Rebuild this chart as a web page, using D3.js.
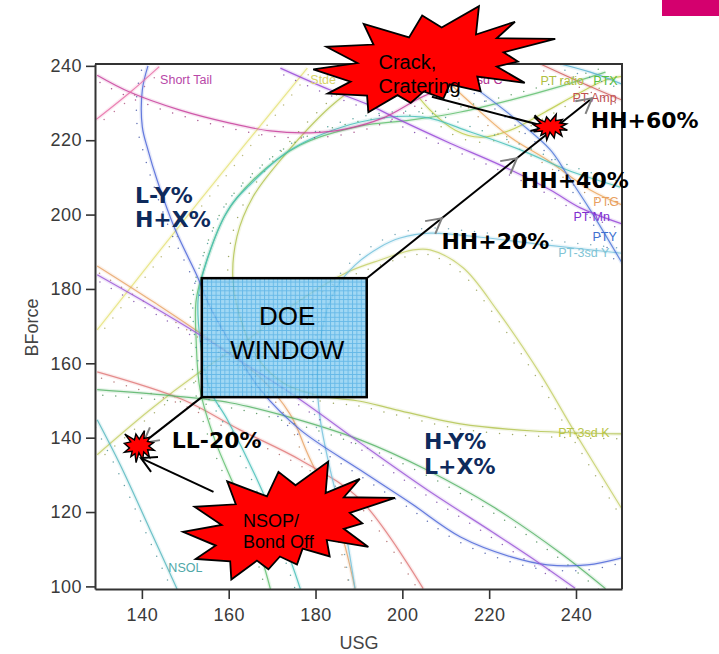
<!DOCTYPE html>
<html>
<head>
<meta charset="utf-8">
<script src="https://cdn.jsdelivr.net/npm/d3@7"></script>
<style>
    body { margin: 0; background: #fff; }
    svg { display: block; }
</style>
</head>
<body>
<div id="chart"></div>
<script>
// Axis ticks.
const usgTicks = [140, 160, 180, 200, 220, 240];
const bforceTicks = [100, 120, 140, 160, 180, 200, 220, 240];

// Contour lines, as [USG, BForce].
const shortTail = [[129.7,237.5],[137.3,232.9],[148.8,228.1],[160.3,224.6],[169.6,222.5],[178.8,222.0],[186.8,223.0],[195.6,226.0],[204.8,231.8],[213.4,235.6]];
const tailSpur = [[129.5,225.6],[137.3,232.9],[144.0,239.8]];
const ptMn = [[171.9,239.4],[183.4,233.5],[191.9,229.7],[199.5,225.4],[211.0,219.2],[222.6,213.3],[234.1,206.6],[241.0,201.8],[250.6,197.5]];
const blueSteep = [[141.4,240.0],[140.1,233.5],[140.1,223.6],[141.4,217.4],[143.5,209.3],[147.7,195.9],[152.8,183.3],[155.7,175.2],[160.3,165.6],[167.3,152.9],[176.5,142.1],[190.3,131.3],[201.8,122.5],[213.4,113.3],[224.9,108.0],[233.4,105.8],[242.6,105.8],[250.6,107.7]];
const purpleLow = [[129.7,183.8],[142.6,175.2],[153.4,167.6],[164.9,159.0],[176.5,150.2],[190.3,138.6],[205.7,126.0],[220.9,114.5],[231.0,106.7],[239.8,99.5]];
const orangeLow = [[129.7,186.2],[143.1,176.2],[155.7,166.3],[167.3,156.1],[174.2,146.2],[178.1,135.9],[185.0,117.9],[189.1,99.4]];
const salmonLow = [[129.7,157.7],[149.5,150.2],[162.6,142.1],[176.5,134.0],[190.3,123.3],[204.8,99.4]];
const greenLow = [[129.7,152.9],[146.5,151.3],[160.3,149.4],[171.9,146.2],[190.3,139.4],[205.7,131.3],[220.9,121.4],[236.4,109.0],[246.8,99.4]];
const pt3sdK = [[191.5,236.2],[183.4,229.0],[172.6,215.6],[165.6,204.8],[161.9,194.1],[161.0,181.8],[163.3,169.9],[166.8,161.1],[173.0,154.4],[181.1,151.2],[190.3,149.8],[197.9,147.7],[213.4,143.7],[230.2,141.8],[250.6,141.0]];
const oliveArch = [[129.7,135.4],[141.9,147.5],[153.4,157.7],[164.9,166.8],[176.5,177.0],[187.3,184.5],[194.9,187.8],[202.5,190.5],[206.4,190.5],[214.0,185.7],[221.8,174.3],[231.8,157.1],[239.4,142.1],[250.6,120.8]];
const pt3sdY = [[250.6,189.6],[233.4,191.8],[218.0,193.9],[206.4,195.0],[199.5,193.7],[194.9,191.3],[189.1,186.4],[184.5,179.7],[181.5,169.0],[180.4,155.5],[181.1,144.8],[183.4,131.3],[186.8,115.2],[189.1,99.4]];
const tealLoop = [[250.2,207.4],[238.0,212.0],[227.2,217.4],[215.7,222.2],[204.8,226.2],[190.3,224.9],[174.2,217.4],[164.9,208.0],[160.3,202.1],[155.0,187.8],[153.0,177.9],[153.4,166.3],[155.7,152.9],[159.7,144.8],[167.3,126.8],[174.2,107.1],[176.5,99.3]];
const greenLoop = [[246.8,238.3],[236.4,234.5],[224.9,230.8],[213.4,227.6],[201.8,225.4],[190.3,223.8],[176.5,218.7],[165.6,209.3],[159.2,199.9],[154.6,186.4],[152.5,177.0],[152.5,166.3],[153.4,152.9],[156.8,139.4],[162.6,123.3],[167.7,107.1],[169.6,99.3]];
const stde = [[129.7,169.0],[153.4,203.9],[178.1,239.4]];
const nsol = [[129.7,144.8],[135.0,132.7],[141.9,115.2],[148.1,99.3]];
const ptRatio = [[200.7,236.2],[206.4,228.1],[212.2,222.7],[217.9,220.8],[224.9,222.7],[232.9,227.6],[239.8,232.1],[246.8,236.2],[250.6,237.2]];
const ptG = [[206.4,240.5],[215.0,230.8],[224.9,220.8],[233.4,214.7],[243.3,206.6],[250.6,202.6]];
const ptY = [[208.7,240.5],[218.0,233.0],[227.2,224.6],[234.1,217.4],[238.0,210.7],[243.3,201.2],[250.6,187.0]];
const ptTop = [[236.4,240.5],[243.3,238.3],[250.6,235.1]];
const ptAmp = [[231.8,240.5],[241.0,235.6],[250.6,230.8]];

const contours = [
    ["stde", stde], ["oliveArch", oliveArch], ["pt3sdK", pt3sdK], ["ptRatio", ptRatio],
    ["orangeLow", orangeLow], ["salmonLow", salmonLow], ["ptG", ptG], ["ptAmp", ptAmp],
    ["greenLow", greenLow], ["greenLoop", greenLoop], ["tealLoop", tealLoop], ["pt3sdY", pt3sdY],
    ["nsol", nsol], ["ptTop", ptTop], ["blueSteep", blueSteep], ["ptY", ptY],
    ["purpleLow", purpleLow], ["ptMn", ptMn], ["shortTail", shortTail], ["tailSpur", tailSpur]
];
const contourColor = {
    stde: "#e6e27a", oliveArch: "#c6d06a", pt3sdK: "#b4c452", ptRatio: "#bccb48",
    orangeLow: "#e8a468", salmonLow: "#e07a7a", ptG: "#eca860", ptAmp: "#d06060",
    greenLow: "#58b468", greenLoop: "#62c070", tealLoop: "#48c0b8", pt3sdY: "#74c2dc",
    nsol: "#58b8c0", ptTop: "#58b0d0", blueSteep: "#4c66d8", ptY: "#5078d8",
    purpleLow: "#9b58d8", ptMn: "#9848d8", shortTail: "#c8409c", tailSpur: "#e870a8"
};

// Contour labels: [USG, BForce, text].
const contourLabels = [
    [144.2, 235.1, "Short Tail"], [178.8, 235.1, "Stde"], [214.6, 235.1, "-3sd C"],
    [231.8, 234.8, "PT ratio"], [244.0, 234.8, "PTX"], [239.2, 230.4, "PT Amp"],
    [244.0, 202.3, "PTG"], [239.4, 198.3, "PT Mn"], [243.8, 193.0, "PTY"],
    [235.9, 188.6, "PT-3sd Y"], [235.9, 140.3, "PT-3sd K"], [146.1, 104.0, "NSOL"]
];
const labelColor = {
    "Short Tail": "#b848a8", "Stde": "#d8d468", "-3sd C": "#b03090", "PT ratio": "#b0c040",
    "PTX": "#58c040", "PT Amp": "#c05050", "PTG": "#e8a060", "PT Mn": "#8030d0",
    "PTY": "#4070d0", "PT-3sd Y": "#80c4d4", "PT-3sd K": "#b8c448", "NSOL": "#50a8a8"
};

// Annotations in data units.
const doeWindow = { usg: [153.8, 191.8], bforce: [150.9, 182.9] };
const hhPath = [[191.8, 182.9], [243.7, 231.3]];
const blackArrows = [[[206.8, 231.7], [233.3, 223.6]], [[156.5, 125.4], [139.8, 134.5]]];
const llArrow = [[153.8, 150.9], [140.3, 138.6]];
const bursts = [
    { at: [207.35, 241.8], w: 242, h: 106, big: true, lines: ["Crack,", "Cratering"], text: [194.5, 239.1], size: 20, lead: 24 },
    { at: [173.9, 117.7], w: 212, h: 118, big: true, lines: ["NSOP/", "Bond Off"], text: [163.3, 116.0], size: 18, lead: 20.7 },
    { at: [234.1, 223.5], w: 34, h: 26, big: false },
    { at: [139.4, 137.6], w: 30, h: 32, big: false }
];
const boldLabels = [
    [209.0, 190.7, "HH+20%", "#000"], [227.3, 207.1, "HH+40%", "#000"], [243.4, 223.2, "HH+60%", "#000"],
    [146.9, 137.2, "LL-20%", "#000"],
    [138.4, 203.2, "L-Y%", "#0e2a5c"], [138.4, 196.6, "H+X%", "#0e2a5c"],
    [205.0, 137.0, "H-Y%", "#0e2a5c"], [205.0, 130.3, "L+X%", "#0e2a5c"]
];

// Explosion outlines (unit box 21600).
const seal2 = [[11462,4342],[14790,0],[14525,5777],[18007,3172],[16380,6532],[21600,6645],[16985,9402],[18270,11290],[16380,12310],[18877,15632],[14640,14350],[14942,17370],[12180,15935],[11612,18842],[9872,17370],[8700,19712],[7527,18125],[4917,21600],[4805,18240],[1285,17825],[3330,15370],[0,12877],[3935,11592],[1172,8270],[5372,7817],[4502,3625],[8550,6382],[9722,1887]];
const seal1 = [[10800,5800],[14522,0],[14155,5325],[18380,4457],[16702,7315],[21097,8137],[17607,10475],[21600,13290],[16837,12942],[18145,18095],[14020,14457],[13247,19737],[10532,14935],[8485,21600],[7715,15627],[4762,17617],[5667,13937],[135,14587],[3722,11775],[0,8615],[4627,7617],[370,2295],[7312,6320],[8352,2295]];

const width = 719, height = 654;
const plot = { left: 95, right: 622, top: 64, bottom: 589 };

let svg = d3.select("#chart")
    .append("svg")
        .attr("width", width)
        .attr("height", height);

let x = d3.scaleLinear().domain([129.2, 250.6]).range([plot.left, plot.right]);
let y = d3.scaleLinear().domain([99.3, 240.5]).range([plot.bottom, plot.top]);

let defs = svg.append("defs");
defs.append("clipPath").attr("id", "plotClip")
    .append("rect")
        .attr("x", plot.left).attr("y", plot.top)
        .attr("width", plot.right - plot.left).attr("height", plot.bottom - plot.top);
let pat = defs.append("pattern")
    .attr("id", "doeGrid")
    .attr("width", 4.4).attr("height", 4.4)
    .attr("patternUnits", "userSpaceOnUse");
pat.append("rect").attr("width", 4.4).attr("height", 4.4).attr("fill", "#8ccff2");
pat.append("path").attr("d", "M0,0.5H4.4M0.5,0V4.4").attr("stroke", "#42a8e2").attr("stroke-width", 0.9);

// Slide decoration in the corner.
svg.append("rect").attr("x", 662).attr("y", 0).attr("width", 57).attr("height", 16).attr("fill", "#d4006e");

// Contour lines with their side dots.
let body = svg.append("g").attr("clip-path", "url(#plotClip)");
let line = d3.line()
    .x(d => x(d[0]))
    .y(d => y(d[1]))
    .curve(d3.curveCatmullRom);

contours.forEach(function(c) {
    let color = contourColor[c[0]];
    body.append("path")
        .attr("d", line(c[1]))
        .attr("fill", "none")
        .attr("stroke", color)
        .attr("stroke-opacity", 0.14)
        .attr("stroke-width", 4);
    let p = body.append("path")
        .attr("d", line(c[1]))
        .attr("fill", "none")
        .attr("stroke", color)
        .attr("stroke-opacity", 0.85)
        .attr("stroke-width", 1.2);
    let node = p.node(), len = node.getTotalLength();
    let dots = [];
    for (let s = 6; s < len; s += 13) {
        let a = node.getPointAtLength(s), b = node.getPointAtLength(Math.min(len, s + 1));
        let dx = b.x - a.x, dy = b.y - a.y, n = Math.hypot(dx, dy) || 1;
        dots.push([a.x - dy / n * 5, a.y + dx / n * 5]);
    }
    body.selectAll(null)
        .data(dots)
        .enter()
        .append("circle")
            .attr("cx", d => d[0])
            .attr("cy", d => d[1])
            .attr("r", 0.75)
            .attr("fill", d3.color(color).darker(0.8))
            .attr("fill-opacity", 0.8);
});

body.selectAll(null)
    .data(contourLabels)
    .enter()
    .append("text")
        .attr("x", d => x(d[0]))
        .attr("y", d => y(d[1]))
        .attr("font-family", "Liberation Sans, Arial, sans-serif")
        .attr("font-size", 12.5)
        .attr("fill", d => labelColor[d[2]])
        .text(d => d[2]);

// Axes and frame.
let axisFont = "Liberation Sans, Arial, sans-serif";
let xAxis = svg.append("g")
    .attr("transform", "translate(0," + plot.bottom + ")")
    .call(d3.axisBottom(x).tickValues(usgTicks).tickSize(10).tickSizeOuter(0).tickPadding(9));
let yAxis = svg.append("g")
    .attr("transform", "translate(" + plot.left + ",0)")
    .call(d3.axisLeft(y).tickValues(bforceTicks).tickSize(9).tickSizeOuter(0).tickPadding(4));
[xAxis, yAxis].forEach(function(g) {
    g.select(".domain").attr("stroke", "#333").attr("stroke-width", 2);
    g.selectAll(".tick line").attr("stroke", "#333").attr("stroke-width", 1.6);
    g.selectAll(".tick text")
        .attr("font-family", axisFont)
        .attr("font-size", 18)
        .attr("letter-spacing", 0.5)
        .attr("fill", "#3a3a3a");
});
svg.append("path")
    .attr("d", "M" + plot.left + "," + plot.top + "H" + plot.right + "V" + plot.bottom)
    .attr("fill", "none")
    .attr("stroke", "#333")
    .attr("stroke-width", 2);

svg.append("text")
    .attr("transform", "translate(38," + ((plot.top + plot.bottom) / 2 + 1) + ") rotate(-90)")
    .attr("text-anchor", "middle")
    .attr("font-family", axisFont)
    .attr("font-size", 18)
    .attr("fill", "#444")
    .text("BForce");
svg.append("text")
    .attr("x", 359)
    .attr("y", 649)
    .attr("text-anchor", "middle")
    .attr("font-family", axisFont)
    .attr("font-size", 18)
    .attr("fill", "#444")
    .text("USG");

// DOE window.
svg.append("rect")
    .attr("x", x(doeWindow.usg[0]))
    .attr("y", y(doeWindow.bforce[1]))
    .attr("width", x(doeWindow.usg[1]) - x(doeWindow.usg[0]))
    .attr("height", y(doeWindow.bforce[0]) - y(doeWindow.bforce[1]))
    .attr("fill", "url(#doeGrid)")
    .attr("fill-opacity", 0.82)
    .attr("stroke", "#000")
    .attr("stroke-width", 2.5);
let doeCx = (x(doeWindow.usg[0]) + x(doeWindow.usg[1])) / 2 + 3;
["DOE", "WINDOW"].forEach(function(t, i) {
    svg.append("text")
        .attr("x", doeCx)
        .attr("y", 325 + i * 34.3)
        .attr("text-anchor", "middle")
        .attr("font-family", axisFont)
        .attr("font-size", 26)
        .attr("fill", "#000")
        .text(t);
});

// Arrows.
function chevron(tip, from, color) {
    let a = Math.atan2(tip[1] - from[1], tip[0] - from[0]);
    let len = 17, spread = 0.5;
    svg.append("path")
        .attr("d", "M" + (tip[0] - len * Math.cos(a - spread)) + "," + (tip[1] - len * Math.sin(a - spread)) +
            "L" + tip[0] + "," + tip[1] +
            "L" + (tip[0] - len * Math.cos(a + spread)) + "," + (tip[1] - len * Math.sin(a + spread)))
        .attr("fill", "none")
        .attr("stroke", color)
        .attr("stroke-width", 2);
}
function px(d) { return [x(d[0]), y(d[1])]; }

let h0 = px(hhPath[0]), h1 = px(hhPath[1]);
svg.append("line")
    .attr("x1", h0[0]).attr("y1", h0[1]).attr("x2", h1[0]).attr("y2", h1[1])
    .attr("stroke", "#000").attr("stroke-width", 2);
[1 / 3, 2 / 3, 1].forEach(function(t) {
    chevron([h0[0] + (h1[0] - h0[0]) * t, h0[1] + (h1[1] - h0[1]) * t], h0, "#808080");
});

let l0 = px(llArrow[0]), l1 = px(llArrow[1]);
svg.append("line")
    .attr("x1", l0[0]).attr("y1", l0[1]).attr("x2", l1[0]).attr("y2", l1[1])
    .attr("stroke", "#000").attr("stroke-width", 2);
chevron(l1, l0, "#808080");

blackArrows.forEach(function(a) {
    let s = px(a[0]), e = px(a[1]);
    svg.append("line")
        .attr("x1", s[0]).attr("y1", s[1]).attr("x2", e[0]).attr("y2", e[1])
        .attr("stroke", "#000").attr("stroke-width", 2);
    chevron(e, s, "#000");
});

// Explosions.
bursts.forEach(function(b) {
    let c = px(b.at);
    let shape = b.big ? seal2 : seal1;
    let d = "M" + shape.map(p => (c[0] - b.w / 2 + p[0] / 21600 * b.w) + "," + (c[1] - b.h / 2 + p[1] / 21600 * b.h)).join("L") + "Z";
    svg.append("path")
        .attr("d", d)
        .attr("fill", "#ff0000")
        .attr("stroke", "#000")
        .attr("stroke-width", b.big ? 1.8 : 1.4)
        .attr("stroke-linejoin", "miter");
    if (b.lines) {
        let t = px(b.text);
        b.lines.forEach(function(s, i) {
            svg.append("text")
                .attr("x", t[0])
                .attr("y", t[1] + i * b.lead)
                .attr("font-family", axisFont)
                .attr("font-size", b.size)
                .attr("fill", "#000")
                .text(s);
        });
    }
});

// Bold region labels.
svg.selectAll(null)
    .data(boldLabels)
    .enter()
    .append("text")
        .attr("x", d => x(d[0]))
        .attr("y", d => y(d[1]))
        .attr("font-family", "DejaVu Sans, Verdana, sans-serif")
        .attr("font-weight", "bold")
        .attr("font-size", 22)
        .attr("fill", d => d[3])
        .text(d => d[2]);
</script>
</body>
</html>
